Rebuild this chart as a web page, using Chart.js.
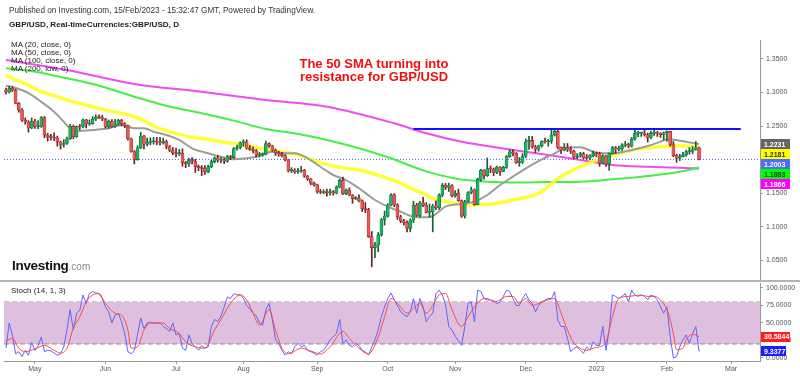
<!DOCTYPE html>
<html>
<head>
<meta charset="utf-8">
<script src="https://cdn.jsdelivr.net/npm/chart.js@4.4.1/dist/chart.umd.min.js"></script>
<style>
  body { margin: 0; background: #fff; font-family: "Liberation Sans", Arial, sans-serif; }
  #wrap { position: relative; width: 800px; height: 376px; overflow: hidden; background: #fff; }
  canvas { position: absolute; left: 0; }
  .t { position: absolute; white-space: nowrap; color: #222; z-index: 2; }
  #sep { position: absolute; left: 0; top: 280px; width: 800px; height: 2px; background: #b4b4b4; z-index: 1; }
</style>
</head>
<body>
<div id="wrap">
  <canvas id="price" width="800" height="282" style="top:0"></canvas>
  <canvas id="osc" width="800" height="94" style="top:282px"></canvas>
  <div id="sep"></div>
  <div class="t" style="left:9px;top:6px;font-size:8.2px;line-height:10px;color:#333">Published on Investing.com, 15/Feb/2023 - 15:32:47 GMT, Powered by TradingView.</div>
  <div class="t" style="left:9px;top:20px;font-size:8.1px;line-height:10px;font-weight:bold">GBP/USD, Real-timeCurrencies:GBP/USD, D</div>
  <div class="t" style="left:11px;top:41px;font-size:8px;line-height:8px">MA (20, close, 0)<br>MA (50, close, 0)<br>MA (100, close, 0)<br>MA (200, low, 0)</div>
  <div class="t" style="left:0;top:57px;width:748px;text-align:center;font-size:13px;line-height:13px;font-weight:bold;color:#f01010">The 50 SMA turning into<br>resistance for GBP/USD</div>
  <div class="t" style="left:12px;top:259px;font-size:13.5px;line-height:14px;font-weight:bold;color:#111;letter-spacing:-0.3px">Investing<span style="font-size:10px;font-weight:normal;color:#888;letter-spacing:0">.com</span></div>
  <div class="t" style="left:11px;top:286px;font-size:8px;line-height:10px">Stoch (14, 1, 3)</div>
</div>
<script>
// daily bars, index 0 = 19 Apr 2022 ... 216 = 15 Feb 2023
const opens = [
  1.3035,1.3003,1.3062,1.3034,1.2836,1.2737,1.2585,1.2560,1.2470,1.2575,
  1.2490,1.2495,1.2625,1.2365,1.2335,1.2330,1.2320,1.2265,1.2215,1.2240,
  1.2310,1.2495,1.2340,1.2490,1.2485,1.2590,1.2530,1.2535,1.2600,1.2630,
  1.2625,1.2600,1.2485,1.2570,1.2490,1.2530,1.2585,1.2535,1.2505,1.2310,
  1.2120,1.2000,1.2175,1.2350,1.2230,1.2255,1.2265,1.2275,1.2260,1.2250,
  1.2270,1.2195,1.2135,1.2100,1.2090,1.2095,1.1955,1.1935,1.1985,1.1975,
  1.1895,1.1880,1.1870,1.1820,1.1895,1.1970,1.2025,1.1990,1.2000,1.1975,
  1.2045,1.2030,1.2165,1.2180,1.2250,1.2265,1.2170,1.2150,1.2130,1.2070,
  1.2075,1.2080,1.2240,1.2205,1.2140,1.2100,1.2085,1.2060,1.1995,1.1835,
  1.1845,1.1815,1.1830,1.1845,1.1755,1.1710,1.1650,1.1625,1.1520,1.1510,
  1.1525,1.1505,1.1525,1.1500,1.1590,1.1690,1.1490,1.1545,1.1470,1.1420,
  1.1430,1.1385,1.1270,1.1255,1.0855,1.0690,1.0730,1.0880,1.1105,1.1160,
  1.1325,1.1475,1.1325,1.1150,1.1090,1.1065,1.0975,1.1100,1.1325,1.1170,
  1.1355,1.1320,1.1215,1.1225,1.1310,1.1285,1.1475,1.1620,1.1585,1.1615,
  1.1465,1.1500,1.1390,1.1160,1.1375,1.1510,1.1550,1.1330,1.1705,1.1840,
  1.1760,1.1865,1.1860,1.1810,1.1890,1.1825,1.1885,1.2045,1.2115,1.2095,
  1.1955,1.1960,1.2050,1.2265,1.2285,1.2190,1.2155,1.2205,1.2270,1.2265,
  1.2275,1.2365,1.2420,1.2185,1.2140,1.2180,1.2150,1.2125,1.2035,1.2050,
  1.2090,1.2025,1.2020,1.2060,1.2095,1.2090,1.1950,1.2055,1.1935,1.2090,
  1.2180,1.2155,1.2160,1.2215,1.2230,1.2200,1.2305,1.2390,1.2392,1.2395,
  1.2370,1.2330,1.2390,1.2410,1.2395,1.2370,1.2400,1.2420,1.2220,1.2060,
  1.2020,1.2045,1.2070,1.2120,1.2122,1.2150,1.2175
];
const highs = [
  1.3065,1.3090,1.3085,1.3050,1.2850,1.2760,1.2620,1.2580,1.2620,1.2600,
  1.2580,1.2640,1.2640,1.2390,1.2375,1.2400,1.2350,1.2275,1.2295,1.2335,
  1.2525,1.2515,1.2500,1.2525,1.2605,1.2600,1.2590,1.2640,1.2665,1.2665,
  1.2660,1.2615,1.2590,1.2595,1.2600,1.2600,1.2600,1.2550,1.2515,1.2320,
  1.2135,1.2205,1.2405,1.2360,1.2320,1.2325,1.2330,1.2330,1.2330,1.2320,
  1.2290,1.2210,1.2180,1.2170,1.2150,1.2160,1.1975,1.2020,1.2030,1.2005,
  1.1920,1.1910,1.1910,1.1920,1.1990,1.2040,1.2060,1.2030,1.2020,1.2065,
  1.2065,1.2180,1.2215,1.2265,1.2295,1.2295,1.2210,1.2190,1.2150,1.2110,
  1.2100,1.2275,1.2250,1.2215,1.2160,1.2125,1.2110,1.2075,1.2000,1.1880,
  1.1865,1.1870,1.1900,1.1855,1.1765,1.1720,1.1665,1.1635,1.1560,1.1550,
  1.1560,1.1560,1.1540,1.1610,1.1710,1.1740,1.1565,1.1580,1.1480,1.1450,
  1.1475,1.1400,1.1360,1.1275,1.0930,1.0770,1.0915,1.1125,1.1235,1.1345,
  1.1495,1.1495,1.1345,1.1170,1.1110,1.1090,1.1120,1.1380,1.1350,1.1380,
  1.1440,1.1360,1.1340,1.1335,1.1385,1.1490,1.1645,1.1645,1.1650,1.1630,
  1.1540,1.1560,1.1400,1.1395,1.1525,1.1590,1.1565,1.1725,1.1855,1.1850,
  1.2025,1.1905,1.1875,1.1905,1.1895,1.1900,1.2060,1.2150,1.2150,1.2105,
  1.2030,1.2090,1.2310,1.2345,1.2345,1.2215,1.2215,1.2280,1.2320,1.2300,
  1.2445,1.2450,1.2440,1.2190,1.2240,1.2240,1.2190,1.2140,1.2090,1.2110,
  1.2110,1.2075,1.2075,1.2125,1.2115,1.2110,1.2075,1.2065,1.2100,1.2195,
  1.2195,1.2200,1.2240,1.2270,1.2245,1.2330,1.2435,1.2420,1.2410,1.2450,
  1.2395,1.2420,1.2435,1.2420,1.2400,1.2410,1.2430,1.2425,1.2270,1.2080,
  1.2080,1.2110,1.2140,1.2180,1.2195,1.2270,1.2185
];
const lows = [
  1.2975,1.2990,1.3010,1.2830,1.2705,1.2570,1.2525,1.2410,1.2460,1.2465,
  1.2460,1.2480,1.2325,1.2275,1.2290,1.2280,1.2200,1.2155,1.2185,1.2225,
  1.2300,1.2310,1.2330,1.2445,1.2470,1.2470,1.2510,1.2525,1.2580,1.2610,
  1.2580,1.2470,1.2465,1.2480,1.2480,1.2510,1.2500,1.2475,1.2290,1.2110,
  1.1935,1.1990,1.2165,1.2160,1.2205,1.2220,1.2230,1.2220,1.2215,1.2230,
  1.2160,1.2120,1.2075,1.2040,1.2060,1.1900,1.1880,1.1900,1.1935,1.1810,
  1.1835,1.1760,1.1780,1.1805,1.1880,1.1950,1.1960,1.1950,1.1940,1.1960,
  1.2000,1.2015,1.2140,1.2160,1.2200,1.2155,1.2135,1.2100,1.2040,1.2040,
  1.2050,1.2070,1.2180,1.2125,1.2060,1.2050,1.2040,1.1980,1.1815,1.1805,
  1.1795,1.1795,1.1810,1.1735,1.1690,1.1625,1.1605,1.1500,1.1490,1.1495,
  1.1455,1.1470,1.1470,1.1490,1.1580,1.1480,1.1480,1.1460,1.1350,1.1405,
  1.1370,1.1230,1.1210,1.0840,1.0405,1.0540,1.0630,1.0860,1.1025,1.1145,
  1.1310,1.1300,1.1110,1.1060,1.1025,1.0925,1.0925,1.1060,1.1155,1.1145,
  1.1300,1.1205,1.1140,1.0925,1.1255,1.1260,1.1445,1.1555,1.1525,1.1445,
  1.1440,1.1380,1.1140,1.1130,1.1365,1.1490,1.1320,1.1330,1.1680,1.1710,
  1.1750,1.1805,1.1760,1.1790,1.1765,1.1820,1.1870,1.2035,1.2055,1.1945,
  1.1900,1.1940,1.2030,1.2150,1.2170,1.2105,1.2125,1.2185,1.2245,1.2200,
  1.2240,1.2350,1.2160,1.2090,1.2130,1.2120,1.2090,1.2010,1.2015,1.2035,
  1.2010,1.2005,1.2000,1.2040,1.2040,1.1900,1.1940,1.1900,1.1840,1.2080,
  1.2090,1.2130,1.2135,1.2190,1.2175,1.2185,1.2290,1.2340,1.2345,1.2350,
  1.2260,1.2310,1.2360,1.2345,1.2330,1.2290,1.2270,1.2200,1.2045,1.1960,
  1.1985,1.2040,1.2050,1.2080,1.2090,1.2140,1.1995
];
const closes = [
  1.3003,1.3062,1.3034,1.2836,1.2737,1.2585,1.2560,1.2470,1.2575,1.2490,
  1.2495,1.2625,1.2365,1.2335,1.2330,1.2320,1.2265,1.2215,1.2240,1.2310,
  1.2495,1.2340,1.2490,1.2485,1.2590,1.2530,1.2535,1.2600,1.2630,1.2625,
  1.2600,1.2485,1.2570,1.2490,1.2530,1.2585,1.2535,1.2505,1.2310,1.2120,
  1.2000,1.2175,1.2350,1.2230,1.2255,1.2265,1.2275,1.2260,1.2250,1.2270,
  1.2195,1.2135,1.2100,1.2090,1.2095,1.1955,1.1935,1.1985,1.1975,1.1895,
  1.1880,1.1870,1.1820,1.1895,1.1970,1.2025,1.1990,1.2000,1.1975,1.2045,
  1.2030,1.2165,1.2180,1.2250,1.2265,1.2170,1.2150,1.2130,1.2070,1.2075,
  1.2080,1.2240,1.2205,1.2140,1.2100,1.2085,1.2060,1.1995,1.1835,1.1845,
  1.1815,1.1830,1.1845,1.1755,1.1710,1.1650,1.1625,1.1520,1.1510,1.1525,
  1.1505,1.1525,1.1500,1.1590,1.1690,1.1490,1.1545,1.1470,1.1420,1.1430,
  1.1385,1.1270,1.1255,1.0855,1.0690,1.0730,1.0880,1.1105,1.1160,1.1325,
  1.1475,1.1325,1.1150,1.1090,1.1065,1.0975,1.1100,1.1325,1.1170,1.1355,
  1.1320,1.1215,1.1225,1.1310,1.1285,1.1475,1.1620,1.1585,1.1615,1.1465,
  1.1500,1.1390,1.1160,1.1375,1.1510,1.1550,1.1330,1.1705,1.1840,1.1760,
  1.1865,1.1860,1.1810,1.1890,1.1825,1.1885,1.2045,1.2115,1.2095,1.1955,
  1.1960,1.2050,1.2265,1.2285,1.2190,1.2155,1.2205,1.2270,1.2265,1.2275,
  1.2365,1.2420,1.2185,1.2140,1.2180,1.2150,1.2125,1.2035,1.2050,1.2090,
  1.2025,1.2020,1.2060,1.2095,1.2090,1.1950,1.2055,1.1935,1.2090,1.2180,
  1.2155,1.2160,1.2215,1.2230,1.2200,1.2305,1.2390,1.2392,1.2395,1.2370,
  1.2330,1.2390,1.2410,1.2395,1.2370,1.2400,1.2420,1.2220,1.2060,1.2020,
  1.2045,1.2070,1.2120,1.2122,1.2150,1.2175,1.2003
];

// moving averages (bar index, value)
const ma20Days = [0,2,7,11,15,18,20,23,27,32,36,38,40,43,46,50,54,58,63,67,71,75,79,83,87,90,94,98,102,106,110,115,119,123,127,131,133,137,142,146,150,154,158,162,167,171,174,179,184,189,195,200,204,206,210,216];
const ma20 = [1.3100,1.3080,1.2990,1.2860,1.2713,1.2564,1.2466,1.2426,1.2440,1.2466,1.2515,1.2490,1.2466,1.2466,1.2415,1.2366,1.2292,1.2168,1.2094,1.2043,1.2004,1.2019,1.2054,1.2118,1.2094,1.2094,1.2019,1.1894,1.1771,1.1696,1.1573,1.1399,1.1299,1.1225,1.1150,1.1141,1.1161,1.1299,1.1339,1.1374,1.1473,1.1622,1.1746,1.1871,1.2004,1.2094,1.2168,1.2183,1.2103,1.2094,1.2143,1.2202,1.2266,1.2302,1.2281,1.2231];
const ma50Days = [0,2,7,11,15,19,23,27,31,36,40,43,46,50,54,58,63,67,71,75,79,83,87,90,94,98,102,106,110,115,119,123,127,131,133,137,142,146,150,154,158,162,167,171,174,178,183,188,193,199,204,209,216];
const ma50 = [1.3259,1.3210,1.3110,1.3010,1.2951,1.2887,1.2838,1.2787,1.2738,1.2689,1.2638,1.2579,1.2500,1.2430,1.2376,1.2332,1.2302,1.2266,1.2243,1.2202,1.2168,1.2133,1.2109,1.2083,1.2019,1.1954,1.1905,1.1871,1.1845,1.1781,1.1722,1.1647,1.1558,1.1473,1.1424,1.1374,1.1339,1.1324,1.1335,1.1359,1.1399,1.1439,1.1522,1.1680,1.1780,1.1871,1.1969,1.2043,1.2118,1.2168,1.2192,1.2207,1.2181];
const ma100Days = [0,9,19,29,40,50,61,71,81,90,100,110,120,130,140,150,160,169,179,189,200,210,216];
const ma100 = [1.3359,1.3308,1.3210,1.3100,1.2936,1.2800,1.2690,1.2580,1.2455,1.2391,1.2292,1.2170,1.2020,1.1840,1.1720,1.1671,1.1660,1.1665,1.1671,1.1707,1.1756,1.1820,1.1883];
const ma200Days = [0,19,40,61,81,100,121,131,142,148,158,169,179,189,200,210,216];
const ma200 = [1.3482,1.3333,1.3125,1.3010,1.2887,1.2787,1.2540,1.2391,1.2266,1.2217,1.2143,1.2068,1.1994,1.1920,1.1894,1.1880,1.1866];

const resistance = { from: 127, to: 229, level: 1.2455 };
const priceTicks = [1.05, 1.10, 1.15, 1.20, 1.25, 1.30, 1.35];

// stochastic (14,1,3)
const stochK = [
  14,50,33,6,9,2,11,4,22,11,
  17,30,9,11,10,7,4,6,16,40,
  69,40,64,68,90,78,92,95,93,92,
  85,73,66,50,61,64,52,35,9,6,
  11,33,57,42,50,51,50,50,50,45,
  42,38,50,33,35,14,11,33,21,16,
  11,18,14,16,45,55,52,60,73,87,
  85,92,90,91,85,75,70,64,60,50,
  47,69,78,55,26,21,11,4,9,6,
  16,21,16,18,11,9,7,4,9,11,
  18,26,30,35,55,21,26,18,16,21,
  18,11,9,4,16,26,40,59,73,85,
  93,83,75,66,62,59,66,85,64,85,
  73,52,59,64,92,97,90,76,45,40,
  31,25,18,45,78,80,52,97,95,85,
  83,83,82,78,80,88,97,95,85,75,
  75,85,92,83,78,66,75,80,83,85,
  85,95,54,45,45,28,9,14,16,11,
  7,16,11,23,18,18,45,11,40,90,
  88,85,88,92,80,97,90,88,90,88,
  83,90,88,83,73,64,73,31,0,2,
  16,26,33,21,35,45,9.3377
];
const stochDDays = [0,2,4,6,9,12,15,17,19,21,23,25,27,29,31,34,36,38,39,41,43,45,49,51,54,56,59,62,65,67,70,73,75,77,79,82,84,86,88,92,95,98,101,105,107,110,113,116,118,120,122,125,127,129,131,133,135,137,139,142,144,146,148,150,152,154,156,158,160,162,164,166,169,171,173,175,177,179,181,183,185,187,189,191,194,196,198,200,202,204,206,207,208,209,211,212,214,216];
const stochD = [24,28,14,9,13,18,11,7,14,43,59,80,90,92,78,64,61,40,14,16,40,50,50,42,35,23,16,14,40,55,78,90,83,64,47,69,40,14,6,14,10,6,16,38,28,14,6,30,59,85,78,64,71,78,64,75,90,92,69,45,59,73,83,85,80,83,88,88,78,85,75,78,83,85,64,40,21,14,11,14,16,23,59,85,88,89,90,88,88,83,69,55,35,12,14,26,34,30.5844];
const bandHigh = 80, bandLow = 20;

const monthIdx = [9, 31, 53, 74, 97, 119, 140, 162, 184, 206, 226];
const monthNames = ['May', 'Jun', 'Jul', 'Aug', 'Sep', 'Oct', 'Nov', 'Dec', '2023', 'Feb', 'Mar'];

const xMin = -0.62, xMax = 235.0;
const FONT = 'Liberation Sans';
Chart.defaults.font.family = FONT;

const pts = (days, vals) => days.map((d, k) => ({ x: d, y: vals[k] }));
const up = closes.map((c, i) => c >= opens[i]);
const lastClose = closes[closes.length - 1];

// no automatic label padding, the panes keep fixed pixel boxes
function fixY(s) { s.width = 40; s.paddingTop = 0; s.paddingBottom = 0; }
function fixX(s) { s.height = 15; s.paddingLeft = 0; s.paddingRight = 0; }

const tagPlugin = {
  id: 'tags',
  afterDraw(chart, args, opts) {
    const ctx = chart.ctx, ys = chart.scales.y;
    let prev = -Infinity;
    ctx.save();
    ctx.font = 'bold 7px "' + FONT + '"';
    ctx.textBaseline = 'middle';
    opts.items.forEach(t => {
      let y = ys.getPixelForValue(t.value);
      if (opts.stack) y = Math.max(y, prev + 10);
      prev = y;
      ctx.fillStyle = t.bg;
      ctx.fillRect(761, Math.round(y - 5), t.w, 10);
      ctx.fillStyle = t.fg;
      ctx.fillText(t.value.toFixed(4), 764, y + 0.5);
    });
    ctx.restore();
  }
};

new Chart(document.getElementById('price'), {
  type: 'bar',
  data: {
    datasets: [
      { type: 'line', data: [{ x: resistance.from, y: resistance.level }, { x: resistance.to, y: resistance.level }],
        borderColor: '#1010ff', borderWidth: 2, pointRadius: 0, order: 0 },
      { label: 'wick', data: closes.map((c, i) => ({ x: i, y: [lows[i], highs[i]] })),
        backgroundColor: up.map(u => u ? '#1d5b34' : '#6b2222'), barThickness: 1, grouped: false, order: 2 },
      { label: 'body', data: closes.map((c, i) => ({ x: i, y: [opens[i], c] })),
        backgroundColor: up.map(u => u ? '#19b765' : '#ec5a55'),
        borderColor: up.map(u => u ? '#0d6a38' : '#9a2a26'),
        borderWidth: 0.6, borderSkipped: false, barThickness: 3, minBarLength: 1, grouped: false, order: 1 },
      { type: 'line', data: pts(ma20Days, ma20), borderColor: '#9c9c9c', borderWidth: 2, pointRadius: 0, cubicInterpolationMode: 'monotone', order: 3 },
      { type: 'line', data: pts(ma50Days, ma50), borderColor: 'rgba(255,255,20,0.85)', borderWidth: 3.5, pointRadius: 0, cubicInterpolationMode: 'monotone', order: 4 },
      { type: 'line', data: pts(ma100Days, ma100), borderColor: '#45f045', borderWidth: 2, pointRadius: 0, cubicInterpolationMode: 'monotone', order: 5 },
      { type: 'line', data: pts(ma200Days, ma200), borderColor: '#f04cf0', borderWidth: 2, pointRadius: 0, cubicInterpolationMode: 'monotone', order: 6 },
      { type: 'line', data: [{ x: xMin, y: lastClose }, { x: xMax, y: lastClose }],
        borderColor: '#3f5fff', borderWidth: 1, borderDash: [1, 2], pointRadius: 0, order: 7 }
    ]
  },
  options: {
    responsive: false, animation: false, events: [],
    layout: { padding: { left: 4, top: 40, bottom: 1, right: 0 } },
    plugins: {
      legend: { display: false }, tooltip: { enabled: false },
      tags: { stack: true, items: [
        { value: ma20[ma20.length - 1], bg: '#666666', fg: '#ffffff', w: 29 },
        { value: ma50[ma50.length - 1], bg: '#ffff00', fg: '#333333', w: 29 },
        { value: lastClose, bg: '#4a6ef5', fg: '#ffffff', w: 29 },
        { value: ma100[ma100.length - 1], bg: '#00ff00', fg: '#333333', w: 29 },
        { value: ma200[ma200.length - 1], bg: '#ff00ff', fg: '#ffffff', w: 29 }
      ] }
    },
    scales: {
      x: { type: 'linear', min: xMin, max: xMax, offset: false, display: false, grid: { offset: false } },
      y: {
        position: 'right', min: 1.01935, max: 1.37798,
        afterFit: fixY,
        afterBuildTicks(s) { s.ticks = priceTicks.map(v => ({ value: v })); },
        ticks: { callback: v => v.toFixed(4), color: '#555', font: { size: 7 }, padding: 3 },
        grid: { drawOnChartArea: false, color: '#999', tickLength: 3 },
        border: { color: '#999', width: 1 }
      }
    }
  },
  plugins: [tagPlugin]
});

new Chart(document.getElementById('osc'), {
  type: 'line',
  data: {
    datasets: [
      { data: [{ x: xMin, y: bandHigh }, { x: xMax, y: bandHigh }], borderColor: '#9a8a9a', borderWidth: 1, borderDash: [5, 3], pointRadius: 0, fill: false, order: 5 },
      { data: [{ x: xMin, y: bandLow }, { x: xMax, y: bandLow }], borderColor: '#9a8a9a', borderWidth: 1, borderDash: [5, 3], pointRadius: 0,
        fill: '-1', backgroundColor: 'rgb(222,192,222)', order: 4 },
      { data: stochK.map((v, i) => ({ x: i, y: v })), borderColor: '#6262ff', borderWidth: 1, pointRadius: 0, order: 2 },
      { data: pts(stochDDays, stochD), borderColor: '#ff4848', borderWidth: 1, pointRadius: 0, cubicInterpolationMode: 'monotone', order: 1 }
    ]
  },
  options: {
    responsive: false, animation: false, events: [],
    layout: { padding: { left: 4, top: 1, bottom: 0, right: 0 } },
    plugins: {
      legend: { display: false }, tooltip: { enabled: false },
      tags: { stack: false, items: [
        { value: stochD[stochD.length - 1], bg: '#ff1c1c', fg: '#ffffff', w: 29 },
        { value: stochK[stochK.length - 1], bg: '#1c1cff', fg: '#ffffff', w: 25 }
      ] }
    },
    scales: {
      x: {
        type: 'linear', min: xMin, max: xMax, offset: false,
        afterFit: fixX,
        afterBuildTicks(s) { s.ticks = monthIdx.map(v => ({ value: v })); },
        ticks: { callback: v => monthNames[monthIdx.indexOf(v)], color: '#555', font: { size: 7 }, padding: 1, maxRotation: 0, autoSkip: false },
        grid: { drawOnChartArea: false, color: '#999', tickLength: 3 },
        border: { color: '#999', width: 1 }
      },
      y: {
        position: 'right', min: -4.29, max: 107.14,
        afterFit: fixY,
        afterBuildTicks(s) { s.ticks = [0, 25, 50, 75, 100].map(v => ({ value: v })); },
        ticks: { callback: v => v.toFixed(4), color: '#555', font: { size: 7 }, padding: 3 },
        grid: { drawOnChartArea: false, color: '#999', tickLength: 3 },
        border: { color: '#999', width: 1 }
      }
    }
  },
  plugins: [tagPlugin]
});
</script>
</body>
</html>
